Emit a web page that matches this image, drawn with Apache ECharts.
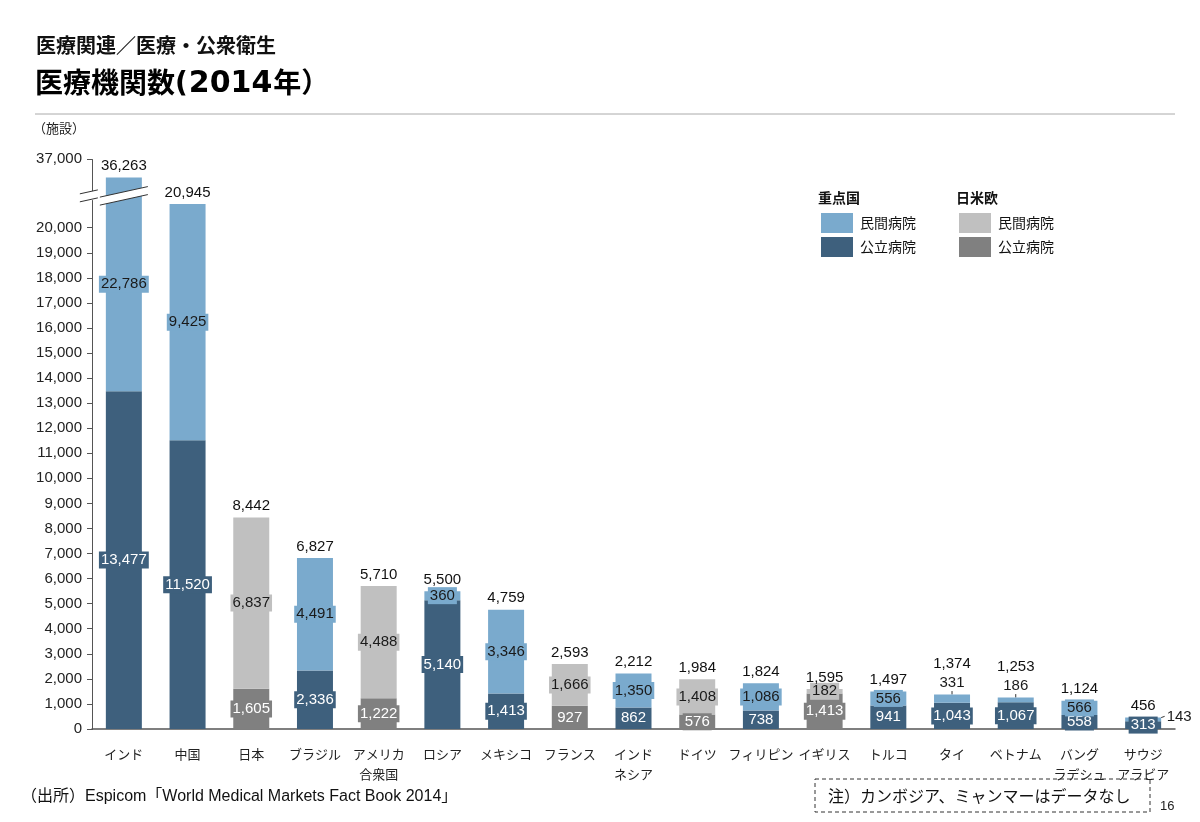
<!DOCTYPE html>
<html>
<head>
<meta charset="utf-8">
<script src="https://cdn.jsdelivr.net/npm/echarts@6/dist/echarts.min.js"></script>
<style>
html, body { margin: 0; padding: 0; background: #fff; }
#chart { width: 1200px; height: 822px; }
</style>
</head>
<body>
<div id="chart"></div>
<script>
var countries = ['インド', '中国', '日本', 'ブラジル', 'アメリカ\n合衆国', 'ロシア', 'メキシコ', 'フランス',
    'インド\nネシア', 'ドイツ', 'フィリピン', 'イギリス', 'トルコ', 'タイ', 'ベトナム', 'バング\nラデシュ', 'サウジ\nアラビア'];
// key = 重点国, jue = 日米欧
var groups = ['key', 'key', 'jue', 'key', 'jue', 'key', 'key', 'jue', 'key', 'jue', 'key', 'jue', 'key', 'key', 'key', 'key', 'key'];
var publicHospitals = [13477, 11520, 1605, 2336, 1222, 5140, 1413, 927, 862, 576, 738, 1413, 941, 1043, 1067, 558, 313];
var privateHospitals = [22786, 9425, 6837, 4491, 4488, 360, 3346, 1666, 1350, 1408, 1086, 182, 556, 331, 186, 566, 143];
var totals = [36263, 20945, 8442, 6827, 5710, 5500, 4759, 2593, 2212, 1984, 1824, 1595, 1497, 1374, 1253, 1124, 456];
var yTicks = [0, 1000, 2000, 3000, 4000, 5000, 6000, 7000, 8000, 9000, 10000, 11000, 12000, 13000, 14000,
    15000, 16000, 17000, 18000, 19000, 20000, 37000];

var colors = {
    key: { priv: '#7aaacd', pub: '#3e607d' },
    jue: { priv: '#c0c0c0', pub: '#808080' }
};
var FONT = "'Liberation Sans', 'Noto Sans CJK JP', sans-serif";
var JP = "'Noto Sans CJK JP', sans-serif";

function fmt(v) {
    return String(v).replace(/\B(?=(\d{3})+(?!\d))/g, ',');
}

var chart = echarts.init(document.getElementById('chart'));

var publicData = publicHospitals.map(function (v, i) {
    var c = colors[groups[i]].pub;
    return { value: v, itemStyle: { color: c }, label: { backgroundColor: c } };
});
var privateData = privateHospitals.map(function (v, i) {
    var c = colors[groups[i]].priv;
    var item = { value: v, itemStyle: { color: c }, label: { backgroundColor: c } };
    if (i === 13 || i === 14 || i === 16) {
        item.label = { backgroundColor: 'transparent' };
    }
    return item;
});
var totalData = totals.map(function (v, i) {
    var item = { value: v };
    if (i === 13 || i === 14) item.label = { offset: [0, -19] };
    return item;
});

function legendBlock(x, title, c) {
    return [
        { type: 'text', x: x - 3, y: 198, style: { text: title, fontSize: 14, fontWeight: 'bold', fontFamily: JP, fill: '#111', verticalAlign: 'middle' } },
        { type: 'rect', shape: { x: x, y: 213, width: 32, height: 20 }, style: { fill: c.priv } },
        { type: 'text', x: x + 39, y: 223, style: { text: '民間病院', fontSize: 14, fontFamily: JP, fill: '#111', verticalAlign: 'middle' } },
        { type: 'rect', shape: { x: x, y: 237, width: 32, height: 20 }, style: { fill: c.pub } },
        { type: 'text', x: x + 39, y: 247, style: { text: '公立病院', fontSize: 14, fontFamily: JP, fill: '#111', verticalAlign: 'middle' } }
    ];
}

var graphics = [
    { type: 'text', x: 36, y: 45, style: { text: '医療関連／医療・公衆衛生', fontSize: 20, fontWeight: 'bold', fontFamily: JP, fill: '#111', verticalAlign: 'middle' } },
    {
        type: 'text', x: 35, y: 82,
        style: {
            text: '{a|医療機関数}{p|(}{n|2014}{a|年）}',
            verticalAlign: 'middle',
            rich: {
                a: { fontSize: 28, fontWeight: 'bold', fontFamily: JP, fill: '#000' },
                p: { fontSize: 28, fontWeight: 'bold', fontFamily: 'DejaVu Sans', fill: '#000', padding: [5, 1, 0, 0] },
                n: { fontSize: 30, fontWeight: 'bold', fontFamily: 'DejaVu Sans', fill: '#000', padding: [5, 1, 0, 0] }
            }
        }
    },
    { type: 'line', shape: { x1: 35, y1: 114, x2: 1175, y2: 114 }, style: { stroke: '#aaa', lineWidth: 1 } },
    { type: 'text', x: 33, y: 128, style: { text: '（施設）', fontSize: 13, fontFamily: JP, fill: '#222', verticalAlign: 'middle' } },
    { type: 'text', x: 21, y: 797, style: { text: '（出所）Espicom「World Medical Markets Fact Book 2014」', fontSize: 16, fontFamily: FONT, fill: '#111', verticalAlign: 'middle' } },
    { type: 'rect', shape: { x: 815, y: 779, width: 335, height: 33 }, style: { fill: 'none', stroke: '#333', lineWidth: 1, lineDash: [4, 3] } },
    { type: 'text', x: 828, y: 796, style: { text: '注）カンボジア、ミャンマーはデータなし', fontSize: 16, fontFamily: JP, fill: '#111', verticalAlign: 'middle' } },
    { type: 'text', x: 1160, y: 806, style: { text: '16', fontSize: 13, fontFamily: FONT, fill: '#222', verticalAlign: 'middle' } }
].concat(legendBlock(821, '重点国', colors.key), legendBlock(959, '日米欧', colors.jue));

var option = {
    animation: false,
    backgroundColor: '#fff',
    textStyle: { fontFamily: FONT },
    grid: { left: 92, right: 25, top: 159, bottom: 93 },
    xAxis: {
        type: 'category',
        data: countries,
        axisLine: { lineStyle: { color: '#555', width: 1.5 } },
        axisTick: { show: false },
        axisLabel: { fontSize: 13, color: '#222', margin: 15, lineHeight: 20, fontFamily: JP, interval: 0 }
    },
    yAxis: {
        type: 'value',
        min: 0,
        max: 37000,
        breaks: [{ start: 21100, end: 35700, gap: '1.5%' }],
        breakArea: { show: false, expandOnClick: false },
        axisLine: { show: true, lineStyle: { color: '#555' } },
        axisTick: { show: true, customValues: yTicks, length: 5, lineStyle: { color: '#555' } },
        axisLabel: { customValues: yTicks, formatter: fmt, fontSize: 15, color: '#222', margin: 10 },
        splitLine: { show: false }
    },
    graphic: graphics,
    series: [
        {
            name: '公立病院',
            type: 'bar',
            stack: 'h',
            barWidth: 36,
            data: publicData,
            label: { show: true, position: 'inside', color: '#fff', fontSize: 15, padding: [1, 2], formatter: function (p) { return fmt(p.value); } }
        },
        {
            name: '民間病院',
            type: 'bar',
            stack: 'h',
            barWidth: 36,
            data: privateData,
            label: { show: true, position: 'inside', color: '#1a1a1a', fontSize: 15, padding: [1, 2], formatter: function (p) { return fmt(p.value); } },
            labelLine: { show: true, lineStyle: { color: '#333', width: 1 } },
            labelLayout: function (p) {
                if (p.dataIndex === 13 || p.dataIndex === 14) {
                    return { dy: -p.rect.height / 2 - 12 };
                }
                if (p.dataIndex === 16) {
                    return { dx: p.rect.width / 2 + 18, dy: -3 };
                }
            }
        },
        {
            name: 'total',
            type: 'scatter',
            symbolSize: 0,
            data: totalData,
            itemStyle: { color: 'transparent', opacity: 1 },
            label: { show: true, position: 'top', distance: 4, color: '#111', fontSize: 15, formatter: function (p) { return fmt(p.value); } },
            z: 5
        }
    ]
};

chart.setOption(option);

// white slanted gap with break marks across the y axis and the India bar
var yA = chart.convertToPixel({ yAxisIndex: 0 }, 21100);
var yB = chart.convertToPixel({ yAxisIndex: 0 }, 35700);
var xIn = chart.convertToPixel({ xAxisIndex: 0 }, 0);
var xAx = xIn - 32;
var ym = (yA + yB) / 2;
var s = 0.22;
function gap(x1, x2) {
    var h = (x2 - x1) * s / 2;
    return { type: 'polygon', z: 199, shape: { points: [[x1, ym - 4 + h], [x2, ym - 4 - h], [x2, ym + 4 - h], [x1, ym + 4 + h]] }, style: { fill: '#fff' } };
}
function slash(x1, x2, off) {
    var h = (x2 - x1) * s / 2;
    return { type: 'line', z: 200, shape: { x1: x1, y1: ym + off + h, x2: x2, y2: ym + off - h }, style: { stroke: '#333', lineWidth: 1 } };
}
var marks = [
    gap(xAx - 12, xAx + 6), slash(xAx - 12, xAx + 6, -4), slash(xAx - 12, xAx + 6, 4),
    gap(xIn - 24, xIn + 24), slash(xIn - 24, xIn + 24, -4), slash(xIn - 24, xIn + 24, 4)
];
chart.setOption({ graphic: graphics.concat(marks) });
</script>
</body>
</html>
